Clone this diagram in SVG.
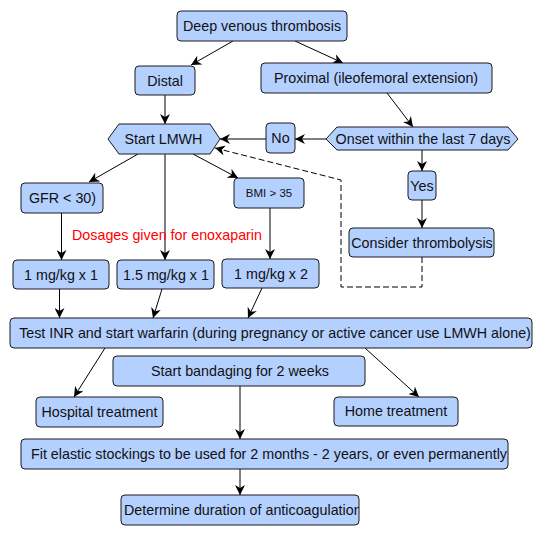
<svg xmlns="http://www.w3.org/2000/svg" width="540" height="536" viewBox="0 0 540 536">
<style>
.n{fill:#b4d0ff;stroke:#1a1a1a;stroke-width:1}
.t{font-family:"Liberation Sans",Arial,sans-serif;font-size:14.3px;fill:#111;text-anchor:middle}
.c{fill:none;stroke:#000;stroke-width:1;marker-end:url(#a)}
.d{stroke-dasharray:6 3}
</style>
<defs>
<marker id="a" markerUnits="userSpaceOnUse" markerWidth="10" markerHeight="10" refX="10" refY="5" orient="auto">
<path d="M0,0 L10,5 L0,10 L3,5 Z" fill="#000"/>
</marker>
<clipPath id="clipDet"><rect x="121" y="495" width="238" height="30"/></clipPath>
</defs>
<rect width="540" height="536" fill="#fff"/>
<g id="connectors">
<path class="c" d="M233,41 L191,65"/>
<path class="c" d="M295,41 L343,63"/>
<path class="c" d="M165,95 L165,124"/>
<path class="c" d="M387,93 L413,127"/>
<path class="c" d="M326,139 L295,139"/>
<path class="c" d="M266,139 L220,139"/>
<path class="c d" d="M422,257 V287 H341 V180 L215,148"/>
<path class="c" d="M422,150 L422,171"/>
<path class="c" d="M422,200 L422,228"/>
<path class="c" d="M138,154 L89,182"/>
<path class="c" d="M165,154 L165,260"/>
<path class="c" d="M193,154 L238,178"/>
<path class="c" d="M61.5,213 L61.5,260"/>
<path class="c" d="M270,208 L270,259"/>
<path class="c" d="M59.5,289 L59.5,318"/>
<path class="c" d="M162,289 L153,318"/>
<path class="c" d="M262,288 L248,318"/>
<path class="c" d="M105,348 L74,397"/>
<path class="c" d="M365,348 L419,397"/>
<path class="c" d="M240,386 L240,439"/>
<path class="c" d="M240,469 L240,495"/>
</g>
<g id="dvt"><rect class="n" x="177" y="11" width="170" height="30" rx="4"/><text class="t" x="262" y="31">Deep venous thrombosis</text></g>
<g id="distal"><rect class="n" x="135" y="66" width="60" height="29" rx="4"/><text class="t" x="165" y="85.5">Distal</text></g>
<g id="proximal"><rect class="n" x="261" y="63" width="231" height="30" rx="4"/><text class="t" x="376" y="83">Proximal (ileofemoral extension)</text></g>
<g id="start"><polygon class="n" points="108,139 119,124 210,124 220,139 210,154 119,154"/><text class="t" x="163.5" y="144">Start LMWH</text></g>
<g id="no"><rect class="n" x="266" y="123" width="29" height="30" rx="4"/><text class="t" x="280.5" y="143">No</text></g>
<g id="onset"><polygon class="n" points="326,139 337,127 508,127 518,139 508,150 337,150"/><text class="t" x="423" y="144">Onset within the last 7 days</text></g>
<g id="gfr"><rect class="n" x="21" y="183" width="82" height="30" rx="4"/><text class="t" x="62.5" y="203">GFR &lt; 30)</text></g>
<g id="bmi"><rect class="n" x="234" y="178" width="70" height="30" rx="4"/><text class="t" x="269" y="197" style="font-size:11.5px">BMI &gt; 35</text></g>
<g id="yes"><rect class="n" x="408" y="171" width="28" height="29" rx="4"/><text class="t" x="422" y="190.5">Yes</text></g>
<g id="consider"><rect class="n" x="349" y="228" width="145" height="29" rx="4"/><text class="t" x="422" y="247.5">Consider thrombolysis</text></g>
<g id="note"><text class="t" x="167" y="240" style="fill:#ff0000">Dosages given for enoxaparin</text></g>
<g id="dose1"><rect class="n" x="13" y="260" width="96" height="29" rx="4"/><text class="t" x="61" y="279.5">1 mg/kg x 1</text></g>
<g id="dose15"><rect class="n" x="117" y="260" width="97" height="29" rx="4"/><text class="t" x="166" y="279.5">1.5 mg/kg x 1</text></g>
<g id="dose2"><rect class="n" x="222" y="259" width="97" height="29" rx="4"/><text class="t" x="271" y="278.5">1 mg/kg x 2</text></g>
<g id="inr"><rect class="n" x="10" y="318" width="522" height="30" rx="4"/><text class="t" x="275" y="338">Test INR and start warfarin (during pregnancy or active cancer use LMWH alone)</text></g>
<g id="bandage"><rect class="n" x="113" y="356" width="252" height="30" rx="4"/><text class="t" x="240" y="376">Start bandaging for 2 weeks</text></g>
<g id="hospital"><rect class="n" x="36" y="397" width="127" height="30" rx="4"/><text class="t" x="99.5" y="417">Hospital treatment</text></g>
<g id="home"><rect class="n" x="334" y="397" width="124" height="29" rx="4"/><text class="t" x="396" y="416">Home treatment</text></g>
<g id="fit"><rect class="n" x="21" y="439" width="487" height="30" rx="4"/><text class="t" x="269" y="459">Fit elastic stockings to be used for 2 months - 2 years, or even permanently</text></g>
<g id="determine"><rect class="n" x="121" y="495" width="238" height="30" rx="4"/><text class="t" x="124" y="515" style="text-anchor:start" clip-path="url(#clipDet)">Determine duration of anticoagulation</text></g>
</svg>
